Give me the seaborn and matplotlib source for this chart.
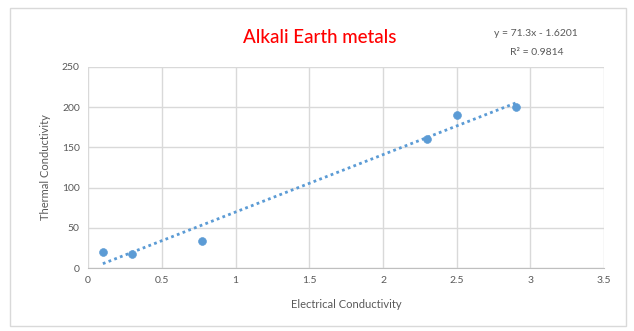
import matplotlib
matplotlib.use("Agg")
import matplotlib.pyplot as plt
import seaborn as sns
import numpy as np
import pandas as pd
from matplotlib.patches import Rectangle

# dane
electrical = [0.1, 0.3, 0.77, 2.3, 2.5, 2.9]
thermal = [20, 18, 34, 160, 190, 200]
slope = 71.3
intercept = -1.6201
r2 = 0.9814

data = pd.DataFrame({"Electrical Conductivity": electrical, "Thermal Conductivity": thermal})

sns.set_style("white")
plt.rcParams['font.family'] = ['Lato', 'DejaVu Sans']

blue = "#5B9BD5"
gray_txt = "#595959"

fig = plt.figure(figsize=(6.34, 3.31), dpi=100)
ax = fig.add_axes([0.139, 0.190, 0.814, 0.608])

# ramka wykresu
fig.patches.append(Rectangle((10 / 634, 1 - 326 / 331), 616 / 634, 318 / 331,
                             transform=fig.transFigure, fill=False,
                             edgecolor="#D9D9D9", linewidth=1))

# linia trendu
xs = np.array([min(electrical), max(electrical)])
ax.plot(xs, slope * xs + intercept, linestyle=(0, (1, 1.2)), color=blue, linewidth=2, zorder=2)

sns.scatterplot(data=data, x="Electrical Conductivity", y="Thermal Conductivity",
                ax=ax, color=blue, s=32, edgecolor=blue, zorder=3)

ax.set_xlim(0, 3.5)
ax.set_ylim(0, 250)
ax.set_xticks(np.arange(0, 3.51, 0.5))
ax.set_xticklabels(["0", "0.5", "1", "1.5", "2", "2.5", "3", "3.5"])
ax.set_yticks(np.arange(0, 251, 50))
ax.grid(True, color="#D9D9D9", linewidth=1)
ax.set_axisbelow(True)
for side in ["top", "right", "left"]:
    ax.spines[side].set_visible(False)
ax.spines["bottom"].set_color("#BFBFBF")
ax.tick_params(axis="both", length=0, labelsize=7.5, colors=gray_txt, pad=6)

ax.set_xlabel("Electrical Conductivity", fontsize=8, color=gray_txt, labelpad=10)
ax.set_ylabel("Thermal Conductivity", fontsize=8, color=gray_txt, labelpad=8)

fig.text(0.505, 0.888, "Alkali Earth metals", color="red", fontsize=13.5,
         fontweight="medium", ha="center", va="center")
fig.text(0.845, 0.898, f"y = {slope}x - {abs(intercept)}", color=gray_txt, fontsize=7.5, ha="center", va="center")
fig.text(0.847, 0.840, f"R² = {r2}", color=gray_txt, fontsize=7.5, ha="center", va="center")

fig.savefig("out.png", dpi=100)
